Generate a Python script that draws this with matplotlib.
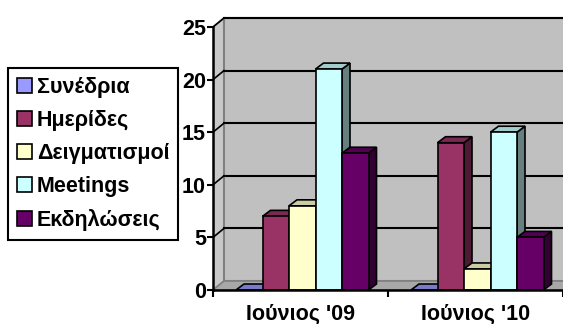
import matplotlib
matplotlib.use("Agg")
import matplotlib.pyplot as plt
from matplotlib.patches import Polygon, Patch
from matplotlib.font_manager import FontProperties

# data
categories = ["Ιούνιος '09", "Ιούνιος '10"]
series = ["Συνέδρια", "Ημερίδες", "Δειγματισμοί", "Meetings", "Εκδηλώσεις"]
values = [
    [0, 0],    # Συνέδρια
    [7, 14],   # Ημερίδες
    [8, 2],    # Δειγματισμοί
    [21, 15],  # Meetings
    [13, 5],   # Εκδηλώσεις
]
yticks = [0, 5, 10, 15, 20, 25]

colors = ['#9999FF', '#993366', '#FFFFCC', '#CCFFFF', '#660066']
FS = 15.5


def shade(hexcol, f):
    r, g, b = matplotlib.colors.to_rgb(hexcol)
    return (r * f, g * f, b * f)


plt.rcParams['font.family'] = ['Liberation Sans', 'DejaVu Sans']
plt.rcParams['font.weight'] = 'bold'

fig = plt.figure(figsize=(5.63, 3.24), dpi=100)
# pixel layout: y=0 at 290px, 25 at 27px; categories 175px wide from x=213
ppu = (290 - 27) / 25.0
ax = fig.add_axes([213 / 563, 0, 350 / 563, 1])
ax.set_xlim(0, 2)
ax.set_ylim(-34 / ppu, 290 / ppu)
ax.patch.set_visible(False)

# 3D depth offsets (data units)
wdx, wdy = 11 / 175, 9 / ppu      # walls
bdx, bdy = 8 / 175, 6 / ppu       # bars
top = 25

# side wall, back wall, floor
ax.add_patch(Polygon([(0, 0), (0, top), (wdx, top + wdy), (wdx, wdy)],
                     closed=True, facecolor='#c8c8c8', edgecolor='#808080', lw=1.2, zorder=1))
ax.add_patch(Polygon([(wdx, wdy), (wdx, top + wdy), (2.2, top + wdy), (2.2, wdy)],
                     closed=True, facecolor='#c0c0c0', edgecolor='#808080', lw=1.5, zorder=1))
ax.add_patch(Polygon([(0, 0), (2.2, 0), (2.2, wdy), (wdx, wdy)],
                     closed=True, facecolor='#a8a8a8', edgecolor='#808080', lw=1.2, zorder=1.5))

for v in yticks[1:]:
    ax.plot([wdx, 2.2], [v + wdy, v + wdy], color='black', lw=1.5, zorder=1.2)
    ax.plot([0, wdx], [v, v + wdy], color='black', lw=1.2, zorder=1.2)

# bars
bw = 26.5 / 175
z = 3
for j, cat in enumerate(categories):
    start = j + 0.5 - len(series) * bw / 2 + 0.01
    for i, name in enumerate(series):
        h = values[i][j]
        x0 = start + i * bw
        ax.bar(x0, h, width=bw, align='edge', color=colors[i],
               edgecolor='black', lw=1.2, zorder=z + 0.2)
        ax.add_patch(Polygon([(x0 + bw, 0), (x0 + bw, h), (x0 + bw + bdx, h + bdy),
                              (x0 + bw + bdx, bdy)], closed=True,
                             facecolor=shade(colors[i], 0.5), edgecolor='black',
                             lw=1.2, zorder=z))
        ax.add_patch(Polygon([(x0, h), (x0 + bw, h), (x0 + bw + bdx, h + bdy),
                              (x0 + bdx, h + bdy)], closed=True,
                             facecolor=shade(colors[i], 0.8), edgecolor='black',
                             lw=1.2, zorder=z + 0.1))
        z += 1

# axes lines and ticks
for s in ['top', 'right']:
    ax.spines[s].set_visible(False)
ax.spines['left'].set_bounds(0, 25)
ax.spines['bottom'].set_bounds(0, 2)
ax.spines['bottom'].set_position(('data', 0))
for s in ['left', 'bottom']:
    ax.spines[s].set_linewidth(1.8)
    ax.spines[s].set_zorder(50)
ax.set_yticks(yticks)
ax.set_yticklabels([str(t) for t in yticks], fontsize=FS, fontweight='bold')
ax.tick_params(axis='y', length=4, width=1.5, pad=1)
ax.set_xticks([0, 1, 2])
ax.set_xticklabels([])
ax.tick_params(axis='x', which='major', length=5, width=1.5)
ax.set_xticks([0.5, 1.5], minor=True)
ax.set_xticklabels(categories, minor=True, fontsize=FS, fontweight='bold')
ax.tick_params(axis='x', which='minor', length=0, pad=10)

# legend
legfont = FontProperties(family='Liberation Sans', weight='bold', size=FS)
handles = [Patch(facecolor=c, edgecolor='black', lw=1.2) for c in colors]
leg = fig.legend(handles, series, loc='upper left',
                 bbox_to_anchor=(8 / 563, 1 - 68 / 324), borderaxespad=0,
                 prop=legfont, handlelength=0.7, handleheight=0.7,
                 handletextpad=0.22, labelspacing=0.56, borderpad=0.42,
                 fancybox=False, edgecolor='black', framealpha=1)
leg.get_frame().set_linewidth(1.5)

fig.savefig('out.png', dpi=100)
